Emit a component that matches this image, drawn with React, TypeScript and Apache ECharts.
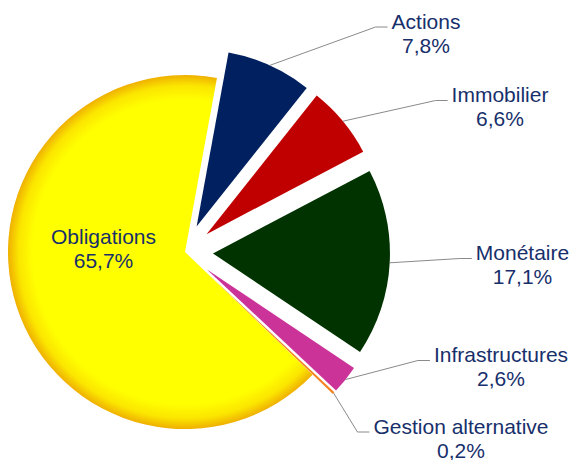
import React, { useEffect, useRef } from "react";
import * as echarts from "echarts";

// ---- data ----
const categories = [
  "Actions",
  "Immobilier",
  "Monétaire",
  "Infrastructures",
  "Gestion alternative",
  "Obligations",
];
const shares = [7.8, 6.6, 17.1, 2.6, 0.2, 65.7];
const exploded = [true, true, true, true, true, false];

// ---- styles / layout ----
const sliceColors = ["#002060", "#C00000", "#003300", "#CC3399", "#F58220", null];
const TEXT_COLOR = "#172F6B";
const LINE_COLOR = "#8A8A8A";
const CENTER: [number, number] = [185, 252];
const RADIUS = 177;
const OFFSET = 28;
// label block centres (px)
const labelCentres: [number, number][] = [
  [426, 33],
  [500, 106.5],
  [522.5, 264.5],
  [501, 366.5],
  [461, 438],
  [103.5, 248],
];

const fmt = (v: number) => v.toFixed(1).replace(".", ",") + "%";

export default function App() {
  const ref = useRef<HTMLDivElement>(null);
  useEffect(() => {
    if (!ref.current) return;
    const chart = echarts.init(ref.current, null, { renderer: "svg" });
    const sliceData = categories.map((name, i) => {
      const item: any = { name, value: shares[i], selected: exploded[i] };
      if (sliceColors[i]) {
        item.itemStyle = { color: sliceColors[i] };
      } else {
        item.itemStyle = {
          color: {
            type: "radial",
            x: CENTER[0],
            y: CENTER[1],
            r: RADIUS,
            global: true,
            colorStops: [
              { offset: 0, color: "#FFFF00" },
              { offset: 0.86, color: "#FFFF00" },
              { offset: 0.94, color: "#FBE600" },
              { offset: 1, color: "#EFB000" },
            ],
          },
        };
      }
      return item;
    });
    const labelData = categories.map((name, i) => {
      const item: any = { name, value: shares[i] };
      if (!exploded[i]) {
        item.label = { position: "inside" };
        item.labelLine = { show: false };
      }
      return item;
    });
    const common = {
      type: "pie",
      center: CENTER,
      radius: RADIUS,
      startAngle: 79.6,
      clockwise: true,
      avoidLabelOverlap: false,
      emphasis: { disabled: true, scale: false },
    };
    chart.setOption({
      animation: false,
      backgroundColor: "#FFFFFF",
      series: [
        {
          ...common,
          selectedMode: "multiple",
          selectedOffset: OFFSET,
          select: { itemStyle: {} },
          silent: true,
          data: sliceData,
          label: { show: false },
          labelLine: { show: false },
        },
        {
          ...common,
          silent: true,
          z: 5,
          data: labelData,
          itemStyle: { color: "rgba(0,0,0,0)" },
          label: {
            show: true,
            position: "outside",
            color: TEXT_COLOR,
            fontFamily: "Liberation Sans, Arial, sans-serif",
            fontSize: 21,
            lineHeight: 24,
            align: "center",
            formatter: (p: any) => `${p.name}\n${fmt(p.value)}`,
          },
          labelLine: {
            show: true,
            lineStyle: { color: LINE_COLOR, width: 1 },
          },
          labelLayout: (params: any) => {
            const i = params.dataIndex;
            const [lx, ly] = labelCentres[i];
            const res: any = {
              x: lx,
              y: ly,
              align: "center",
              verticalAlign: "middle",
            };
            if (exploded[i] && params.labelLinePoints) {
              const p0 = params.labelLinePoints[0];
              const ddx = p0[0] - CENTER[0];
              const ddy = p0[1] - CENTER[1];
              const len = Math.sqrt(ddx * ddx + ddy * ddy) || 1;
              const start = [
                p0[0] + (ddx / len) * OFFSET,
                p0[1] + (ddy / len) * OFFSET,
              ];
              const w = params.labelRect.width;
              const endX = lx - w / 2 - 4;
              const endY = ly - 6;
              res.labelLinePoints = [start, [endX - 12, endY], [endX, endY]];
            }
            return res;
          },
        },
      ],
    });
    return () => chart.dispose();
  }, []);
  return (
    <div
      ref={ref}
      style={{ position: "fixed", left: 0, top: 0, width: 571, height: 460 }}
    />
  );
}
